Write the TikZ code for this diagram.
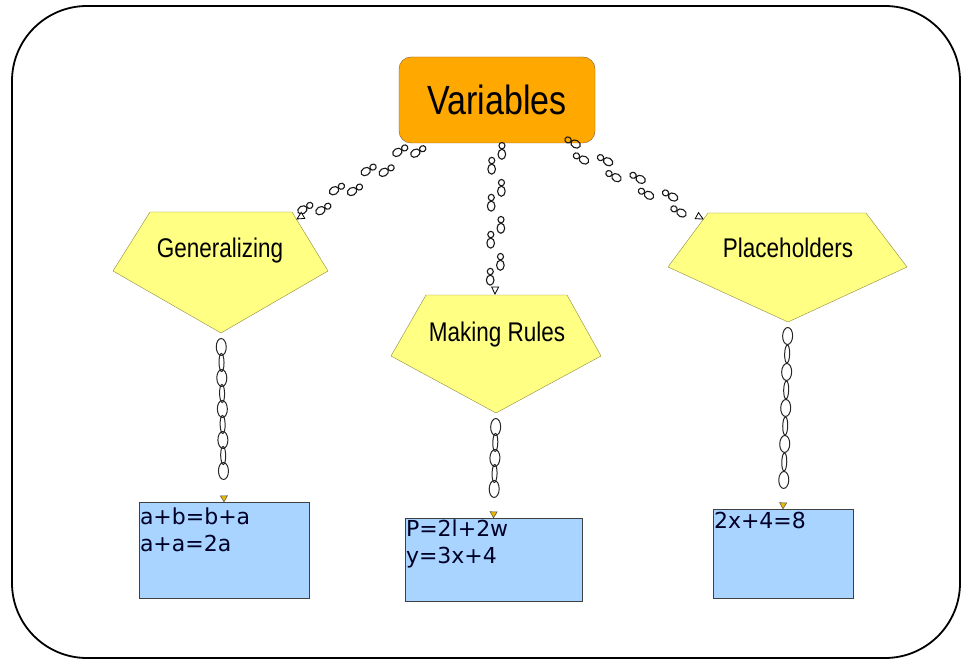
\documentclass[tikz,border=0pt]{standalone}
\usepackage{fontspec}
\usepackage{graphicx}
\setmainfont{Liberation Sans}
\newfontfamily\eqfont{DejaVu Sans}
\usetikzlibrary{decorations.markings}

\definecolor{varorange}{RGB}{255,168,0}
\definecolor{pentyellow}{RGB}{255,255,132}
\definecolor{boxblue}{RGB}{168,212,255}
\definecolor{tipyellow}{RGB}{236,184,0}

% one shoe print, sole ahead, heel behind
\newcommand\shoeprint[1]{\draw[black!90, line width=1.1pt, shift={(#1)}]
  (3pt,0pt) ellipse (5pt and 3.8pt) (-5.6pt,0pt) ellipse (3.2pt and 3pt);}
\newcommand\tall[1]{\scalebox{1}[1.2]{#1}}

\begin{document}
\begin{tikzpicture} [
    x=1pt, y=-1pt,
    topic/.style    = { rectangle, rounded corners=12pt, draw=brown!70!black,
                        fill=varorange, minimum width=196pt, minimum height=86pt,
                        font=\fontsize{34}{38}\selectfont },
    penta/.style    = { draw=olive!60!gray, fill=pentyellow },
    idea/.style     = { font=\fontsize{22.5}{26}\selectfont },
    example/.style  = { rectangle, draw=black!75, fill=boxblue },
    extext/.style   = { anchor=north west, align=left, inner sep=1pt,
                        text=black!85!blue, font=\eqfont\fontsize{22}{27}\selectfont },
    footpath/.style = { decorate, decoration={markings,
                          mark=between positions 8pt and -12pt step 37pt with
                            {\shoeprint{0pt,5pt} \shoeprint{15pt,-5pt}},
                          mark=at position 1 with {\draw[black, fill=white, line width=0.8pt]
                            (-7pt,3.5pt) -- (0pt,0pt) -- (-7pt,-3.5pt) -- cycle;}} },
    chain/.style 2 args = { decorate, decoration={markings,
                          mark=between positions #2 and -16pt step #1 with
                            {\draw[black!85, line width=1pt] (0pt,0pt) ellipse (9pt and 2.5pt);},
                          mark=between positions 14pt and -16pt step #1 with
                            {\draw[black!85, line width=1pt] (0pt,0pt) ellipse (8.5pt and 5pt);},
                          mark=at position 1 with {\draw[draw=black!70, fill=tipyellow, line width=0.5pt]
                            (-6pt,3.5pt) -- (0pt,0pt) -- (-6pt,-3.5pt) -- cycle;}} },
  ]
  \useasboundingbox (0,0) rectangle (963,660);

  % frame
  \draw[line width=1.8pt, rounded corners=75pt] (12,6) rectangle (960,658);

  % main topic
  \node[topic] (var) at (497,100) {\tall{Variables}};

  % the three ideas
  \draw[penta] (150,212) -- (292,212) -- (328,271) -- (221,333) coordinate (gen-s) -- (113,271) -- cycle;
  \node[idea] (gen) at (220,251) {\tall{Generalizing}};
  \coordinate (gen-in) at (297,219);

  \draw[penta] (426,295) -- (567,295) -- (601,356) -- (496,413) coordinate (mr-s) -- (391,356) -- cycle;
  \node[idea] (mr) at (497,335) {\tall{Making Rules}};
  \coordinate (mr-n) at (495,294);

  \draw[penta] (708,213) -- (866,213) -- (907,267) -- (788,322) coordinate (ph-s) -- (668,267) -- cycle;
  \node[idea] (ph) at (788,248) {\tall{Placeholders}};
  \coordinate (ph-in) at (703,219);

  % examples
  \node[example, minimum width=170pt, minimum height=96pt] (ex1) at (224,550) {};
  \node[extext, yshift=-5pt] at (ex1.north west) {a+b=b+a\\a+a=2a};
  \node[example, minimum width=177pt, minimum height=83pt] (ex2) at (493.5,559.5) {};
  \node[extext, yshift=-1pt] at (ex2.north west) {P=2l+2w\\y=3x+4};
  \node[example, minimum width=140pt, minimum height=89pt] (ex3) at (783,553.5) {};
  \node[extext, yshift=-2pt] at (ex3.north west) {2x+4=8};

  % connect the nodes
  \path[footpath] (var.210) -- (gen-in);
  \path[footpath] (var.south) -- (mr-n);
  \path[footpath] (var.-33) -- (ph-in);
  \path[chain={31pt}{29.5pt}] (gen-s) -- (ex1.north);
  \path[chain={31pt}{29.5pt}] (mr-s) -- (ex2.north);
  \path[chain={36pt}{32pt}] (ph-s) -- (ex3.north);
\end{tikzpicture}
\end{document}
